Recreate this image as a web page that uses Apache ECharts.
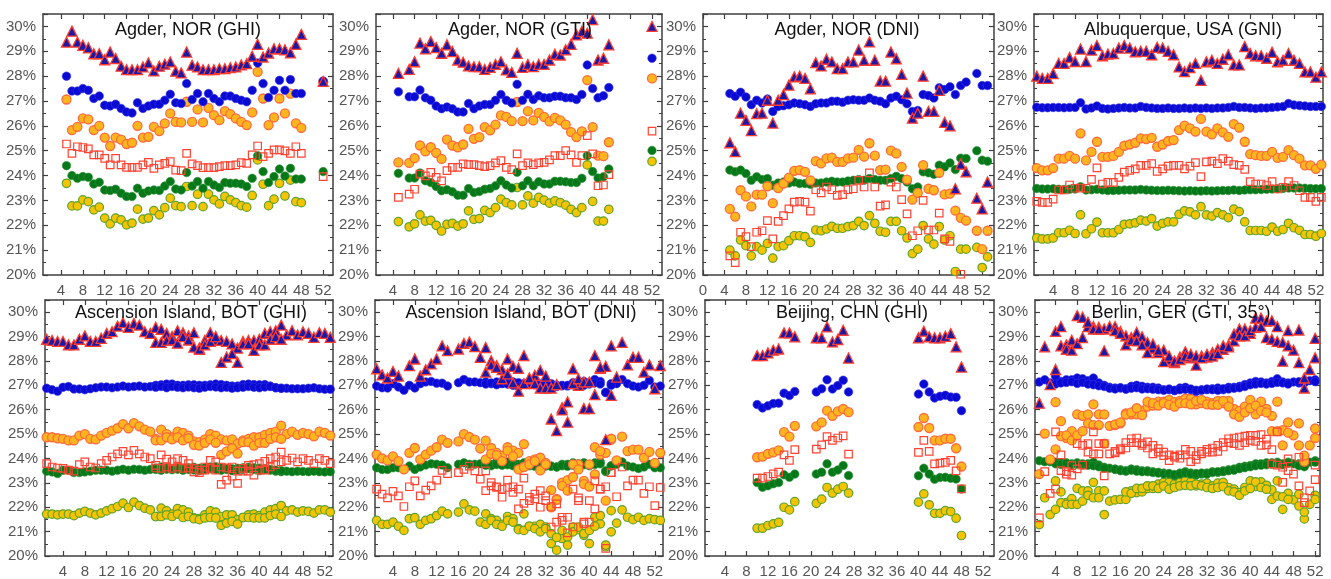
<!DOCTYPE html>
<html><head><meta charset="utf-8">
<script src="https://cdn.jsdelivr.net/npm/echarts@6/dist/echarts.min.js"></script>
<style>html,body{margin:0;padding:0;background:#fff}#c{width:1331px;height:579px}</style>
</head><body><div id="c"></div>
<script>
const N = null;
const WEEKS = [1,2,3,4,5,6,7,8,9,10,11,12,13,14,15,16,17,18,19,20,21,22,23,24,25,26,27,28,29,30,31,32,33,34,35,36,37,38,39,40,41,42,43,44,45,46,47,48,49,50,51,52,53];
const W21_44 = [21,22,23,24,25,26,27,28,29,30,31,32,33,34,35,36,37,38,39,40,41,42,43,44];
const P7_WEEKS = [10,11,12,13,14,15,16,17,21,22,23,24,25,26,27,40,41,42,43,44,45,46,47,48];
const X_LAB = [4,8,12,16,20,24,28,32,36,40,44,48,52];
const X_LAB0 = [0,4,8,12,16,20,24,28,32,36,40,44,48,52];
const Y_LAB = [20,21,22,23,24,25,26,27,28,29,30];

// Panel 1: Agder, NOR (GHI)
const P1_TRI = [N,N,N,N,29.37,29.81,29.37,29.24,29.14,28.90,28.90,28.66,28.97,28.71,28.40,28.26,28.26,28.26,28.37,28.53,28.21,28.40,28.48,28.57,28.20,28.13,28.97,28.44,28.37,28.26,28.26,28.26,28.30,28.30,28.34,28.37,28.45,28.50,28.80,29.28,28.77,28.93,29.10,29.10,29.06,28.94,29.28,29.68,N,N,N,27.79,N];
const P1_BLU = [N,N,N,N,28.00,27.40,27.40,27.50,27.43,27.10,27.20,26.83,26.80,26.87,26.70,26.56,26.52,26.93,26.70,26.80,26.87,26.87,27.03,27.27,26.93,26.90,27.70,27.06,27.30,26.97,27.30,27.10,26.97,27.20,27.20,27.10,27.03,26.97,27.43,28.53,27.70,27.14,27.43,27.83,27.43,27.86,27.30,27.30,N,N,N,27.80,N];
const P1_ORA = [N,N,N,N,27.06,25.83,25.96,26.30,26.26,25.83,26.00,25.53,25.19,25.53,25.45,25.27,25.32,26.00,25.53,25.56,25.96,25.79,26.10,26.50,26.16,26.14,26.97,26.16,26.66,26.14,26.72,26.43,26.23,26.59,26.47,26.30,26.16,26.03,26.54,28.17,27.10,26.03,26.34,27.10,26.50,27.30,26.10,25.92,N,N,N,27.77,N];
const P1_SQR = [N,N,N,N,25.27,24.89,25.16,25.13,25.07,24.83,24.83,24.69,24.43,24.69,24.43,24.33,24.33,24.33,24.43,24.53,24.29,24.43,24.49,24.56,24.22,24.20,24.89,24.47,24.40,24.32,24.32,24.32,24.36,24.40,24.40,24.43,24.52,24.49,24.83,25.19,24.76,24.89,25.03,25.03,24.99,24.89,25.16,24.89,N,N,N,23.96,N];
const P1_GRN = [N,N,N,N,24.40,24.00,23.89,23.96,23.93,23.66,23.73,23.42,23.40,23.45,23.29,23.16,23.16,23.49,23.29,23.38,23.42,23.40,23.58,23.76,23.46,23.42,24.12,23.58,23.76,23.49,23.76,23.62,23.52,23.72,23.69,23.69,23.66,23.56,23.89,24.80,24.16,23.72,23.96,24.26,23.98,24.29,23.86,23.86,N,N,N,24.16,N];
const P1_YEL = [N,N,N,N,23.69,22.78,22.78,23.02,22.95,22.62,22.73,22.29,22.06,22.29,22.22,22.02,22.09,22.65,22.25,22.29,22.59,22.42,22.71,23.09,22.79,22.75,23.56,22.79,23.25,22.75,23.25,23.02,22.86,23.16,23.02,22.91,22.79,22.73,23.20,24.63,23.65,22.79,23.05,23.69,23.18,23.82,22.95,22.91,N,N,N,N,N];

// Panel 2: Agder, NOR (GTI)
const P2_TRI = [N,N,N,N,28.11,N,28.27,28.58,29.33,29.10,29.39,29.15,28.92,29.26,28.99,28.65,28.56,28.41,28.38,28.38,28.27,28.35,28.47,28.58,28.25,28.15,28.92,28.35,28.47,28.38,28.47,28.47,28.65,28.88,28.85,29.06,29.28,29.66,29.80,29.73,30.27,28.65,28.72,29.26,N,N,N,N,N,N,N,30.00,N];
const P2_BLU = [N,N,N,N,27.37,N,27.17,27.17,27.44,27.13,27.03,26.80,26.69,26.76,26.69,26.56,26.56,26.90,26.69,26.80,26.86,26.86,27.03,27.26,27.03,26.92,27.67,27.03,27.27,27.06,27.21,27.13,27.13,27.19,27.19,27.13,27.13,27.06,27.26,28.45,27.50,27.13,27.21,27.54,N,N,N,N,N,N,N,28.72,N];
const P2_ORA = [N,N,N,N,24.53,N,24.51,24.70,25.21,24.97,25.14,24.91,24.67,25.45,25.21,25.14,25.25,25.88,25.48,25.55,25.95,25.82,26.05,26.42,26.36,26.19,26.96,26.19,26.59,26.22,26.52,26.36,26.18,26.32,26.22,26.05,25.75,25.55,25.78,27.84,25.95,24.80,24.78,25.34,N,N,N,N,N,N,N,27.91,N];
const P2_SQR = [N,N,N,N,23.12,N,23.25,23.45,24.06,23.99,24.13,23.93,23.79,24.20,24.33,24.33,24.47,24.44,24.44,24.40,24.36,24.40,24.51,24.60,24.33,24.24,24.87,24.40,24.51,24.44,24.51,24.53,24.63,24.80,24.80,25.00,24.83,24.53,24.80,25.61,24.87,23.59,23.62,24.04,N,N,N,N,N,N,N,25.79,N];
const P2_GRN = [N,N,N,N,24.09,N,23.90,23.90,24.10,23.79,23.72,23.56,23.39,23.43,23.35,23.21,23.21,23.48,23.32,23.36,23.45,23.48,23.59,23.79,23.62,23.50,24.13,23.59,23.79,23.59,23.75,23.66,23.66,23.77,23.77,23.75,23.72,23.72,23.89,24.80,24.16,23.90,23.95,24.26,N,N,N,N,N,N,N,25.01,N];
const P2_YEL = [N,N,N,N,22.15,N,21.94,22.06,22.42,22.17,22.20,22.00,21.77,22.04,22.08,21.97,22.06,22.58,22.24,22.27,22.60,22.51,22.71,23.05,22.91,22.82,23.52,22.82,23.18,22.89,23.12,23.01,22.89,22.98,22.91,22.81,22.64,22.51,22.71,24.43,22.96,22.17,22.17,22.64,N,N,N,N,N,N,N,24.57,N];

// Panel 3: Agder, NOR (DNI)
const P3_TRI = [N,N,N,N,25.32,24.96,26.51,26.22,25.81,26.49,26.51,27.03,26.11,27.03,27.26,27.64,27.97,28.00,27.91,27.49,28.54,28.41,28.68,28.57,28.30,28.30,28.57,28.57,29.05,28.64,29.38,28.64,27.80,27.80,28.97,28.70,28.07,27.32,26.31,26.51,28.00,26.58,26.58,27.43,26.14,26.00,23.47,24.46,24.15,N,23.09,22.66,23.74];
const P3_BLU = [N,N,N,N,27.30,27.19,27.35,27.16,26.85,27.03,26.92,27.08,26.58,26.78,26.81,26.85,26.92,26.89,26.85,26.78,26.89,26.92,26.92,26.99,26.99,26.95,27.03,27.05,27.03,27.03,27.12,27.03,26.99,26.89,27.12,27.19,27.05,26.89,26.58,26.62,27.26,27.22,27.12,27.53,27.46,27.57,27.26,27.62,27.76,N,28.11,27.62,27.62];
const P3_ORA = [N,N,N,N,22.66,22.35,23.41,23.16,22.76,23.23,23.23,23.57,22.89,23.50,23.68,23.92,24.19,24.22,24.15,23.81,24.58,24.49,24.69,24.72,24.55,24.55,24.69,24.72,25.03,24.76,25.30,24.80,24.22,24.24,25.00,24.89,24.35,23.84,23.03,23.30,24.42,23.47,23.41,24.11,23.24,23.27,22.59,22.30,22.19,N,21.78,21.04,21.78];
const P3_SQR = [N,N,N,N,20.77,20.50,21.72,21.54,21.14,21.72,21.78,22.19,21.45,22.16,22.39,22.66,22.93,22.96,22.93,22.57,23.43,23.30,23.54,23.43,23.20,23.23,23.43,23.47,23.81,23.54,24.11,23.54,22.77,22.82,23.74,23.54,23.03,22.46,21.58,21.78,23.00,21.81,21.81,22.49,21.45,21.35,N,20.03,N,N,N,N,N];
const P3_GRN = [N,N,N,N,24.22,24.15,24.22,24.08,23.81,23.95,23.84,23.88,23.61,23.70,23.74,23.70,23.74,23.68,23.68,23.65,23.70,23.70,23.74,23.77,23.74,23.74,23.78,23.81,23.84,23.81,23.88,23.84,23.81,23.81,23.88,23.97,23.88,23.74,23.47,23.54,24.15,24.11,24.05,24.42,24.35,24.51,24.24,24.70,24.69,N,25.00,24.62,24.58];
const P3_YEL = [N,N,N,N,21.00,20.77,21.41,21.18,20.77,21.14,21.00,21.27,20.68,21.14,21.18,21.38,21.58,21.58,21.54,21.31,21.81,21.78,21.85,21.96,21.88,21.88,21.95,21.99,22.16,21.99,22.39,22.08,21.76,21.72,22.16,22.16,21.78,21.49,20.86,21.04,21.99,21.45,21.24,21.95,21.41,21.58,20.14,21.04,21.04,N,21.11,20.30,20.73];

// Panel 4: Albuquerque, USA (GNI)
const P4_TRI = [28.00,27.91,27.91,28.10,28.51,28.51,28.75,28.59,29.09,28.59,29.05,29.23,28.82,28.89,28.91,29.13,29.23,29.13,28.98,29.00,29.00,28.86,29.16,29.13,29.00,28.86,28.37,28.18,28.34,28.51,27.83,28.58,28.64,28.51,28.68,28.86,28.45,28.45,29.19,28.91,28.82,28.82,28.72,28.96,28.58,28.64,28.91,28.64,28.51,28.17,28.17,27.96,28.17];
const P4_BLU = [26.75,26.73,26.73,26.74,26.74,26.73,26.74,26.74,26.93,26.68,26.72,26.80,26.70,26.68,26.70,26.72,26.74,26.72,26.72,26.78,26.74,26.72,26.70,26.70,26.72,26.70,26.70,26.72,26.70,26.72,26.70,26.72,26.70,26.72,26.72,26.74,26.78,26.74,26.74,26.72,26.70,26.72,26.72,26.74,26.76,26.78,26.90,26.84,26.82,26.80,26.78,26.78,26.78];
const P4_ORA = [24.30,24.21,24.21,24.30,24.68,24.68,24.79,24.68,25.70,24.61,24.95,25.36,24.75,24.75,24.79,24.95,25.20,25.25,25.32,25.50,25.47,25.52,25.16,25.25,25.39,25.43,25.83,26.01,25.90,25.77,26.28,25.77,25.66,25.90,25.74,25.56,26.07,25.93,25.36,24.86,24.82,24.79,24.79,24.95,24.71,24.75,25.02,24.82,24.68,24.41,24.41,24.27,24.44];
const P4_SQR = [22.96,22.92,22.92,23.05,23.42,23.42,23.62,23.49,23.50,23.49,23.85,24.31,23.66,23.73,23.73,23.93,24.14,24.21,24.27,24.41,24.41,24.48,24.17,24.27,24.38,24.41,24.41,24.27,24.38,24.52,23.96,24.55,24.58,24.48,24.68,24.58,24.44,24.41,24.25,23.76,23.66,23.66,23.60,23.76,23.46,23.53,23.76,23.60,23.39,23.12,23.12,22.96,23.12];
const P4_GRN = [23.48,23.46,23.46,23.47,23.45,23.44,23.45,23.46,23.55,23.42,23.43,23.45,23.42,23.40,23.40,23.41,23.42,23.42,23.42,23.44,23.42,23.41,23.40,23.40,23.41,23.40,23.39,23.38,23.39,23.38,23.38,23.39,23.38,23.39,23.40,23.40,23.42,23.40,23.42,23.43,23.43,23.44,23.45,23.46,23.47,23.48,23.50,23.50,23.50,23.49,23.48,23.47,23.48];
const P4_YEL = [21.49,21.45,21.45,21.49,21.70,21.70,21.80,21.67,22.42,21.66,21.86,22.13,21.70,21.70,21.70,21.83,22.04,22.06,22.10,22.21,22.17,22.27,21.97,22.08,22.14,22.14,22.44,22.58,22.54,22.42,22.75,22.42,22.37,22.51,22.42,22.31,22.65,22.55,22.14,21.79,21.79,21.79,21.76,21.93,21.76,21.83,22.08,21.90,21.80,21.63,21.63,21.56,21.67];

// Panel 5: Ascension Island, BOT (GHI) - main track and second track (weeks 21-44)
const P5_TRI = [28.89,28.84,28.80,28.80,28.66,28.66,28.89,29.03,28.80,28.80,28.93,29.13,29.20,29.43,29.57,29.38,29.54,29.47,29.20,29.13,29.38,29.30,29.13,29.00,29.24,29.16,29.03,29.16,28.53,28.84,29.16,28.86,28.84,28.80,28.70,28.53,28.80,28.84,28.84,28.89,29.13,29.20,29.24,29.47,29.07,29.24,29.07,29.20,29.13,28.97,29.16,29.13,28.97];
const P5_TRI2 = [28.76,28.76,28.84,28.86,28.73,29.00,28.86,28.57,28.48,28.66,28.80,29.00,27.94,28.16,28.30,27.94,28.70,28.70,28.43,28.66,28.66,28.89,29.00,28.89];
const P5_BLU = [26.88,26.82,26.76,26.92,26.95,26.85,26.85,26.82,26.86,26.90,26.93,26.93,26.90,26.93,26.97,26.93,26.95,26.97,26.93,26.95,27.00,27.02,27.05,27.05,27.00,27.00,27.02,27.02,27.00,27.00,27.02,27.05,27.03,27.00,26.97,26.97,27.03,27.05,27.03,27.02,27.03,26.97,26.90,26.88,26.88,26.86,26.86,26.86,26.88,26.90,26.86,26.84,26.84];
const P5_BLU2 = [26.92,26.95,26.90,26.95,26.92,26.90,26.93,26.90,26.88,26.92,26.95,26.93,26.90,26.92,26.88,26.90,26.92,26.95,26.92,26.90,26.93,26.95,26.90,26.88];
const P5_ORA = [24.87,24.87,24.83,24.80,24.74,24.74,24.94,25.00,24.80,24.78,24.94,25.05,25.14,25.24,25.41,25.24,25.45,25.32,25.18,25.10,24.80,25.18,25.00,24.87,25.10,25.05,24.94,24.70,24.67,24.78,25.00,24.94,24.78,24.74,24.78,24.60,24.74,24.80,24.87,24.87,24.97,25.05,25.10,25.35,25.00,25.10,24.97,25.05,25.00,24.91,25.10,25.05,24.94];
const P5_ORA2 = [24.74,24.74,24.87,24.78,24.87,24.74,24.83,24.56,24.53,24.64,24.78,24.64,24.15,24.29,24.42,24.20,24.67,24.67,24.53,24.64,24.64,24.80,24.87,24.80];
const P5_SQR = [23.79,23.65,23.61,23.59,23.52,23.48,23.75,23.86,23.65,23.61,23.79,23.92,24.06,24.19,24.29,24.15,24.33,24.19,24.06,23.99,23.72,24.15,23.97,23.86,23.99,23.92,23.79,23.59,23.52,23.65,23.92,23.86,23.65,23.61,23.65,23.48,23.59,23.72,23.75,23.79,23.88,23.99,24.06,24.26,23.92,24.02,23.86,23.99,23.92,23.79,23.99,23.92,23.79];
const P5_SQR2 = [23.61,23.59,23.65,23.59,23.65,23.59,23.61,23.45,23.42,23.52,23.59,23.52,22.94,23.11,23.27,22.98,23.48,23.48,23.32,23.52,23.52,23.65,23.75,23.86];
const P5_GRN = [23.48,23.45,23.38,23.52,23.52,23.42,23.42,23.45,23.48,23.52,23.52,23.52,23.48,23.52,23.56,23.52,23.56,23.55,23.52,23.55,23.61,23.65,23.62,23.60,23.62,23.60,23.62,23.64,23.60,23.62,23.65,23.66,23.62,23.60,23.58,23.60,23.62,23.64,23.62,23.60,23.58,23.52,23.48,23.46,23.48,23.46,23.48,23.47,23.46,23.48,23.46,23.45,23.46];
const P5_GRN2 = [23.55,23.52,23.56,23.54,23.56,23.52,23.55,23.53,23.50,23.54,23.57,23.55,23.52,23.55,23.50,23.52,23.55,23.58,23.55,23.50,23.54,23.55,23.52,23.50];
const P5_YEL = [21.72,21.72,21.69,21.72,21.72,21.66,21.76,21.83,21.76,21.69,21.76,21.85,21.94,22.03,22.17,21.99,22.21,22.07,21.96,21.89,21.62,21.96,21.85,21.72,21.94,21.89,21.80,21.56,21.53,21.69,21.85,21.80,21.62,21.69,21.69,21.49,21.58,21.69,21.72,21.66,21.80,21.89,21.94,22.07,21.85,21.89,21.80,21.85,21.83,21.76,21.89,21.89,21.80];
const P5_YEL2 = [21.62,21.62,21.69,21.62,21.72,21.58,21.62,21.53,21.49,21.56,21.58,21.56,21.26,21.35,21.42,21.31,21.58,21.58,21.56,21.56,21.56,21.66,21.72,21.62];

// Panel 6: Ascension Island, BOT (DNI)
const P6_TRI = [27.68,27.43,27.30,27.57,27.38,N,27.81,28.08,27.38,27.64,27.88,28.08,28.62,28.42,N,28.49,28.72,28.78,28.59,28.15,28.55,28.01,27.81,27.65,28.08,27.78,27.70,28.22,27.27,27.41,27.61,27.38,25.62,25.14,26.08,25.49,27.68,27.00,26.05,26.05,28.22,27.70,27.78,28.62,27.34,28.76,27.84,28.15,28.15,27.54,27.84,26.86,27.81];
const P6_TRI2 = [27.54,27.84,27.74,27.27,27.47,27.10,26.76,27.07,27.30,27.07,26.89,26.89,26.89,27.03,25.99,26.32,27.07,27.27,27.14,27.14,26.62,27.74,24.77,26.59];
const P6_BLU = [26.97,26.90,26.89,27.07,26.93,26.80,27.00,26.89,27.07,27.14,27.16,27.09,27.09,26.97,N,27.11,27.24,27.14,27.14,27.11,27.14,27.07,27.14,27.07,27.16,27.14,27.11,27.07,27.14,27.11,27.07,27.14,27.07,27.00,27.00,26.97,27.11,27.14,27.16,27.11,27.24,27.16,26.70,27.07,27.07,27.24,27.07,26.97,26.93,27.00,27.20,26.93,26.97];
const P6_BLU2 = [27.05,27.10,27.02,27.08,27.05,27.00,26.95,27.05,27.08,27.02,27.00,27.05,27.00,26.95,26.98,27.00,27.02,27.05,27.00,27.05,27.10,27.05,26.72,27.00];
const P6_ORA = [24.16,24.00,23.92,24.09,23.89,23.55,24.23,24.43,23.96,24.16,24.32,24.46,24.77,24.64,N,24.70,25.00,24.88,24.77,24.41,24.73,24.43,24.23,24.12,24.46,24.32,24.23,24.59,23.89,23.96,24.03,23.82,22.70,22.34,23.01,23.11,23.24,23.76,23.08,23.76,24.46,24.16,24.23,24.77,23.92,24.90,24.30,24.36,24.36,24.03,24.27,23.82,24.23];
const P6_ORA2 = [23.96,24.19,24.14,23.89,24.32,24.09,23.55,23.65,23.76,23.89,23.51,23.76,22.00,22.30,22.88,22.68,23.76,23.55,22.95,22.85,23.35,24.30,22.27,24.81];
const P6_SQR = [22.74,22.54,22.38,22.65,22.47,22.03,22.84,23.08,22.47,22.70,22.88,23.11,23.51,23.38,N,23.42,23.55,23.69,23.49,23.15,23.49,23.01,22.84,22.74,23.11,22.84,22.74,23.19,22.41,22.54,22.68,22.47,22.03,22.14,21.46,21.59,22.74,22.38,21.39,22.27,23.08,22.74,22.84,23.42,22.43,23.65,22.88,23.11,23.11,22.57,22.84,22.07,22.81];
const P6_SQR2 = [22.68,22.88,22.81,22.41,22.81,22.61,21.93,22.16,22.27,22.34,22.00,22.27,21.19,21.39,21.59,20.95,21.19,22.27,21.32,21.39,21.93,22.74,20.31,23.42];
const P6_GRN = [23.62,23.55,23.55,23.62,23.62,23.55,23.69,23.55,23.65,23.73,23.78,23.76,23.73,23.62,N,23.76,23.82,23.76,23.76,23.78,23.82,23.76,23.86,23.82,23.86,23.82,23.76,23.82,23.78,23.73,23.76,23.69,23.69,23.65,23.76,23.76,23.82,23.78,23.82,23.76,23.82,23.86,23.46,23.69,23.76,23.86,23.69,23.65,23.59,23.65,23.76,23.62,23.62];
const P6_GRN2 = [23.72,23.70,23.75,23.72,23.74,23.70,23.68,23.72,23.70,23.68,23.66,23.70,23.68,23.65,23.70,23.68,23.72,23.70,23.74,23.70,23.75,23.78,23.50,23.70];
const P6_YEL = [21.46,21.30,21.30,21.39,21.22,21.05,21.53,21.57,21.30,21.46,21.53,21.66,21.84,21.73,N,21.80,22.14,21.89,21.84,21.39,21.73,21.53,21.46,21.30,21.62,21.53,21.12,21.73,21.22,21.22,21.30,21.19,20.51,20.24,20.72,20.78,21.19,21.08,20.85,20.51,21.59,21.32,20.38,21.86,21.35,21.89,21.59,21.49,21.59,21.46,21.53,21.49,21.46];
const P6_YEL2 = [21.30,21.46,21.30,21.22,21.46,21.39,21.08,21.05,21.22,21.12,20.99,21.12,20.92,20.76,21.05,20.45,20.99,21.19,20.92,21.05,21.22,21.66,20.45,20.99];

// Panel 7: Beijing, CHN (GHI)
const P7_TRI = [28.22,28.22,28.33,28.44,28.49,29.15,29.15,28.99,28.95,28.95,29.40,28.78,28.88,29.26,28.12,28.95,29.22,28.99,28.95,28.95,29.01,29.12,28.58,27.75];
const P7_BLU = [26.21,26.07,26.16,26.25,26.27,26.68,26.58,26.75,26.73,26.86,27.23,26.85,26.99,27.21,26.73,26.64,27.05,26.73,26.48,26.55,26.59,26.52,26.51,25.96];
const P7_ORA = [24.05,24.08,24.19,24.25,24.33,25.08,24.90,25.34,25.32,25.48,25.96,25.75,25.93,26.03,25.90,25.29,25.66,25.25,24.74,24.74,24.81,24.81,24.42,23.67];
const P7_SQR = [23.19,23.19,23.26,23.37,23.44,24.15,23.92,24.36,24.38,24.56,24.90,24.74,24.84,24.93,24.18,24.25,24.74,24.29,23.78,23.81,23.84,23.92,23.49,22.75];
const P7_GRN = [23.01,22.82,22.88,22.96,23.01,23.33,23.23,23.36,23.36,23.44,23.78,23.44,23.53,23.71,23.30,23.29,23.60,23.36,23.15,23.22,23.23,23.19,23.16,22.75];
const P7_YEL = [21.14,21.14,21.25,21.32,21.38,22.00,21.89,22.23,22.16,22.33,22.81,22.58,22.74,22.85,22.58,22.21,22.55,22.10,21.75,21.75,21.86,21.82,21.55,20.84];

// Panel 8: Berlin, GER (GTI, 35°) - two tracks
const P8_TRI_A = [26.27,28.58,27.03,27.65,28.62,28.66,28.85,29.86,29.79,29.41,29.41,29.38,29.31,29.41,29.41,29.21,29.03,28.96,29.17,28.99,28.76,28.52,28.34,28.44,28.06,27.93,28.16,28.38,28.13,27.83,28.20,28.16,28.34,28.48,28.48,28.66,28.82,29.31,29.31,29.13,29.76,29.76,29.63,29.65,29.41,27.99,29.24,28.44,29.27,26.89,27.65,28.93,27.28];
const P8_TRI_B = [N,N,N,29.21,29.41,28.48,28.44,28.71,28.96,29.59,29.31,29.31,28.41,N,29.24,29.13,28.66,28.85,28.82,28.66,28.34,28.69,28.44,27.97,28.20,27.99,28.06,28.20,28.27,28.20,28.13,28.27,28.20,28.30,28.62,28.58,29.10,29.03,29.03,29.24,29.38,29.41,28.96,28.89,28.80,28.76,28.62,N,27.93,27.30,N,28.13,27.03];
const P8_BLU_A = [27.14,27.23,27.10,27.37,27.16,27.23,27.23,27.30,27.27,27.19,27.30,27.10,27.00,26.92,26.89,26.89,26.86,26.96,27.00,26.96,26.92,26.92,26.89,26.82,26.82,26.78,26.89,26.92,26.82,26.75,26.82,26.82,26.86,26.89,26.82,26.92,26.92,26.96,27.03,27.10,27.16,27.14,27.10,27.16,27.27,27.14,27.10,27.14,27.10,27.19,27.19,27.23,27.27];
const P8_BLU_B = [N,N,N,27.05,27.10,27.12,27.15,27.08,27.12,27.05,27.02,26.98,26.95,26.88,26.85,26.90,26.84,26.88,26.90,26.85,26.86,26.84,26.82,26.80,26.85,26.80,26.82,26.84,26.85,26.80,26.80,26.85,26.82,26.80,26.86,26.85,26.88,26.90,26.95,27.02,27.05,27.08,27.05,27.08,27.12,27.10,27.05,N,27.15,27.10,N,27.15,27.20];
const P8_ORA_A = [23.36,25.02,23.96,26.31,25.53,24.84,25.12,25.81,25.75,25.81,26.22,25.81,25.81,25.34,25.37,25.44,25.85,25.81,25.81,25.95,26.13,26.17,26.33,26.33,26.40,26.31,26.36,26.45,26.45,26.22,26.27,26.33,26.27,26.36,26.27,26.36,26.03,25.95,26.13,26.40,25.81,26.33,26.03,25.75,26.33,24.54,25.48,24.95,25.44,23.87,24.54,24.84,24.12];
const P8_ORA_B = [N,N,N,24.37,24.92,24.95,24.74,24.95,25.12,25.44,25.37,25.37,24.61,N,25.40,25.48,25.80,25.89,26.06,25.78,26.33,26.27,26.17,26.27,26.20,26.13,26.27,26.27,26.22,26.36,26.40,26.22,26.20,26.20,26.36,26.13,25.81,25.71,25.89,26.06,26.17,25.95,25.89,25.12,25.12,25.16,25.06,N,24.54,24.12,N,25.23,24.19];
const P8_SQR_A = [21.56,23.46,22.57,25.09,23.50,23.46,23.71,24.61,24.54,24.26,25.09,24.61,23.29,24.19,24.29,24.40,24.65,24.81,24.65,24.61,24.43,24.54,24.26,24.12,24.15,24.05,24.15,24.37,24.29,24.12,24.19,24.26,24.43,24.54,24.65,24.65,24.84,24.88,24.92,24.95,24.70,24.98,24.79,24.36,25.09,23.02,23.98,23.36,24.05,22.39,22.67,23.13,22.39];
const P8_SQR_B = [N,N,N,22.74,24.15,23.36,23.32,23.57,23.73,24.61,24.19,24.19,24.61,N,24.23,24.35,24.43,24.65,24.84,24.54,24.68,24.19,24.40,24.26,23.91,24.10,24.01,24.15,23.87,23.96,24.29,24.37,24.26,24.29,24.47,24.81,24.61,24.54,24.65,24.74,24.95,24.54,24.56,23.78,23.73,23.64,23.50,N,22.88,22.19,N,23.73,22.19];
const P8_GRN_A = [23.91,23.87,23.87,23.85,23.82,23.82,23.78,23.82,23.73,23.78,23.85,23.73,23.64,23.60,23.57,23.54,23.50,23.57,23.54,23.50,23.50,23.46,23.43,23.40,23.36,23.29,23.40,23.46,23.40,23.32,23.36,23.40,23.46,23.43,23.50,23.54,23.57,23.64,23.68,23.71,23.78,23.78,23.82,23.82,23.85,23.78,23.85,23.78,23.78,23.71,23.85,23.91,23.96];
const P8_GRN_B = [N,N,N,23.78,23.75,23.80,23.74,23.76,23.78,23.72,23.70,23.66,23.60,N,23.55,23.50,23.48,23.52,23.48,23.46,23.46,23.42,23.40,23.36,23.38,23.34,23.36,23.40,23.36,23.38,23.40,23.36,23.42,23.46,23.46,23.50,23.52,23.58,23.62,23.66,23.70,23.72,23.74,23.76,23.78,23.74,23.80,N,23.70,23.66,N,23.85,23.90];
const P8_YEL_A = [21.29,22.39,21.70,23.08,22.63,22.19,22.35,22.77,22.67,22.67,23.02,22.67,22.67,22.25,22.30,22.32,22.32,22.67,22.60,22.63,22.77,22.77,22.95,23.02,23.02,22.95,23.02,23.08,23.04,22.88,22.95,22.99,22.88,22.99,23.02,22.81,22.74,22.60,22.81,23.08,22.85,23.04,22.90,22.71,23.08,21.91,22.57,22.30,22.53,21.52,22.12,22.49,21.88];
const P8_YEL_B = [N,N,N,21.91,22.19,22.12,22.12,22.12,22.25,22.49,22.39,22.39,21.70,N,N,N,22.63,22.57,22.77,22.77,22.88,22.88,22.77,22.88,22.74,22.81,22.88,22.90,22.88,22.95,22.88,22.81,22.77,22.81,22.85,22.67,22.63,22.49,22.67,22.77,23.04,22.81,22.74,22.32,22.46,22.43,22.32,N,22.05,21.80,N,22.32,21.84];

// ---- layout / styles (not data) ----
const PANELS = [
  {title:'Agder, NOR (GHI)', tx:188, left:43, top:14, w:290, h:261, xr:[0.7,53.8], xl:X_LAB,
   tracks:[{wk:WEEKS, tri:P1_TRI, blu:P1_BLU, ora:P1_ORA, sqr:P1_SQR, grn:P1_GRN, yel:P1_YEL}]},
  {title:'Agder, NOR (GTI)', tx:520, left:376, top:14, w:286, h:261, xr:[0.85,53.85], xl:X_LAB,
   tracks:[{wk:WEEKS, tri:P2_TRI, blu:P2_BLU, ora:P2_ORA, sqr:P2_SQR, grn:P2_GRN, yel:P2_YEL}]},
  {title:'Agder, NOR (DNI)', tx:847, left:703, top:14, w:291, h:261, xr:[0,54.2], xl:X_LAB0,
   tracks:[{wk:WEEKS, tri:P3_TRI, blu:P3_BLU, ora:P3_ORA, sqr:P3_SQR, grn:P3_GRN, yel:P3_YEL}]},
  {title:'Albuquerque, USA (GNI)', tx:1183, left:1034, top:14, w:289, h:261, xr:[0.5,53.3], xl:X_LAB,
   tracks:[{wk:WEEKS, tri:P4_TRI, blu:P4_BLU, ora:P4_ORA, sqr:P4_SQR, grn:P4_GRN, yel:P4_YEL}]},
  {title:'Ascension Island, BOT (GHI)', tx:191, left:45, top:300, w:288, h:258, xr:[0.7,53.5], xl:X_LAB,
   tracks:[{wk:WEEKS, tri:P5_TRI, blu:P5_BLU, ora:P5_ORA, sqr:P5_SQR, grn:P5_GRN, yel:P5_YEL},
           {wk:W21_44, tri:P5_TRI2, blu:P5_BLU2, ora:P5_ORA2, sqr:P5_SQR2, grn:P5_GRN2, yel:P5_YEL2}]},
  {title:'Ascension Island, BOT (DNI)', tx:521, left:375, top:300, w:288, h:258, xr:[0.7,53.5], xl:X_LAB,
   tracks:[{wk:WEEKS, tri:P6_TRI, blu:P6_BLU, ora:P6_ORA, sqr:P6_SQR, grn:P6_GRN, yel:P6_YEL},
           {wk:W21_44, tri:P6_TRI2, blu:P6_BLU2, ora:P6_ORA2, sqr:P6_SQR2, grn:P6_GRN2, yel:P6_YEL2}]},
  {title:'Beijing, CHN (GHI)', tx:852, left:705, top:300, w:289, h:258, xr:[0.3,54.05], xl:X_LAB,
   tracks:[{wk:P7_WEEKS, tri:P7_TRI, blu:P7_BLU, ora:P7_ORA, sqr:P7_SQR, grn:P7_GRN, yel:P7_YEL}]},
  {title:'Berlin, GER (GTI, 35°)', tx:1181, left:1035, top:300, w:285, h:258, xr:[0.2,52.9], xl:X_LAB,
   tracks:[{wk:WEEKS, tri:P8_TRI_A, blu:P8_BLU_A, ora:P8_ORA_A, sqr:P8_SQR_A, grn:P8_GRN_A, yel:P8_YEL_A},
           {wk:WEEKS, tri:P8_TRI_B, blu:P8_BLU_B, ora:P8_ORA_B, sqr:P8_SQR_B, grn:P8_GRN_B, yel:P8_YEL_B}]}
];

const STY = {
  yel:{symbol:'circle',   size:8.5, color:'#f4c400', border:'#5ea22c', bw:1.2},
  grn:{symbol:'circle',   size:8.5, color:'#06781a', border:'#2f9436', bw:0.6},
  ora:{symbol:'circle',   size:9,   color:'#ffb61e', border:'#ff6a3c', bw:1.3},
  sqr:{symbol:'rect',     size:7.5, color:'rgba(255,255,255,0)', border:'#ff4433', bw:1.2},
  blu:{symbol:'circle',   size:8.5, color:'#0a0ad2', border:'#3434ee', bw:0.6},
  tri:{symbol:'triangle', size:10,  color:'#1a1aa6', border:'#ff3a2e', bw:1.3}
};
const ORDER = ['yel','grn','ora','sqr','blu','tri'];

function pts(weeks, vals){
  const out = [];
  for (let i = 0; i < vals.length; i++) if (vals[i] !== null) out.push([weeks[i], vals[i]]);
  return out;
}

const FONT = 'Liberation Sans, Arial, sans-serif';
const LINE = {color:'#3f3f3f', width:1.5};
const grid = [], xAxis = [], yAxis = [], series = [], graphic = [];

PANELS.forEach((p, i) => {
  grid.push({left:p.left, top:p.top, width:p.w, height:p.h, containLabel:false});
  const xBase = {type:'value', gridIndex:i, min:p.xr[0], max:p.xr[1],
    splitLine:{show:false}, axisLine:{show:true, onZero:false, lineStyle:LINE}};
  xAxis.push(Object.assign({}, xBase, {position:'bottom',
    axisTick:{show:true, inside:true, length:5, customValues:p.xl, lineStyle:{color:'#3f3f3f', width:1.2}},
    axisLabel:{show:true, customValues:p.xl, color:'#555', fontSize:15, fontFamily:FONT, margin:8}}));
  xAxis.push(Object.assign({}, xBase, {position:'top',
    axisTick:{show:true, inside:true, length:5, customValues:p.xl, lineStyle:{color:'#3f3f3f', width:1.2}},
    axisLabel:{show:false}}));
  const yBase = {type:'value', gridIndex:i, min:20, max:30.5, interval:1,
    splitLine:{show:false}, axisLine:{show:true, onZero:false, lineStyle:LINE},
    axisTick:{show:true, inside:true, length:5, lineStyle:{color:'#3f3f3f', width:1.2}},
    minorTick:{show:true, splitNumber:2, length:3, lineStyle:{color:'#3f3f3f', width:1}}};
  yAxis.push(Object.assign({}, yBase, {position:'left',
    axisLabel:{show:true, color:'#555', fontSize:15, fontFamily:FONT, margin:7,
      formatter: v => (Y_LAB.indexOf(v) >= 0 ? v + '%' : '')}}));
  yAxis.push(Object.assign({}, yBase, {position:'right', axisLabel:{show:false}}));

  ORDER.forEach(k => {
    const s = STY[k];
    p.tracks.forEach(t => {
      series.push({type:'scatter', xAxisIndex:2*i, yAxisIndex:2*i,
        symbol:s.symbol, symbolSize:s.size, data:pts(t.wk, t[k]), silent:true, animation:false,
        itemStyle:{color:s.color, borderColor:s.border, borderWidth:s.bw, opacity:1}});
    });
  });

  graphic.push({type:'text', x:p.tx, y:p.top + (i < 4 ? 16.5 : 13), z:100,
    style:{text:p.title, fill:'#111', font:'18px ' + FONT, textAlign:'center', textVerticalAlign:'middle'}});
});

const chart = echarts.init(document.getElementById('c'), null, {renderer:'canvas'});
chart.setOption({backgroundColor:'#fff', animation:false, grid, xAxis, yAxis, series, graphic});
</script>
</body></html>
